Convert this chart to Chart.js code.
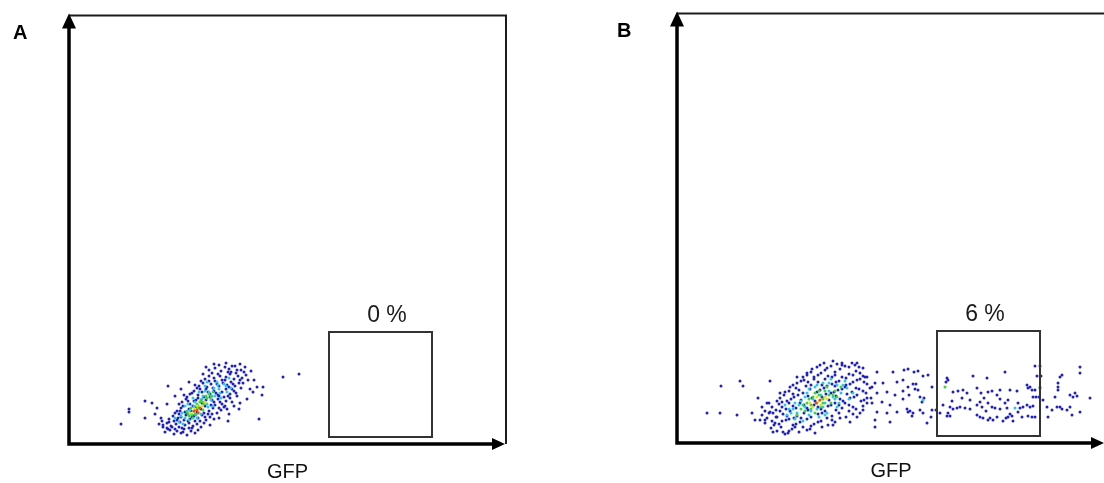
<!DOCTYPE html>
<html><head><meta charset="utf-8">
<script src="https://cdn.jsdelivr.net/npm/chart.js@4"></script>
<style>
html,body{margin:0;padding:0;overflow:hidden;background:#fff;width:1104px;height:483px;position:relative}
canvas{position:absolute;top:0}
</style></head>
<body>
<canvas id="cA" width="552" height="483" style="left:0"></canvas>
<canvas id="cB" width="560" height="483" style="left:552px"></canvas>
<script>
// ---------- DATA (GFP, side scatter; units) ----------
const panelLetters = ['A', 'B'];
const gateLabels = ['0 %', '6 %'];
const gateGFP = [260, 363];
const gateSSC = [7, 112];
const axisTitle = 'GFP';

const A_blue = [[96,12],[101,14],[105,10],[108,13],[112,11],[115,15],[118,9],[122,13],[110,17],[103,17],[99,15],[126,11],[120,16],
[94,19],[98,21],[102,18],[107,20],[111,22],[116,19],[120,21],[124,18],[128,20],[132,17],[105,23],[113,16],[126,23],[135,21],[90,20],
[100,25],[104,28],[108,24],[112,27],[117,29],[121,25],[125,28],[129,26],[133,29],[137,24],[141,27],[145,25],[110,30],[119,23],[131,23],[139,30],
[108,33],[112,36],[116,32],[120,35],[124,38],[128,32],[132,35],[136,38],[140,33],[144,36],[148,31],[152,34],[155,37],[114,38],[146,39],[118,31],
[113,42],[117,45],[121,40],[125,43],[129,46],[133,41],[137,44],[141,47],[145,42],[149,45],[153,40],[157,43],[161,46],[118,47],[150,48],[156,38],
[121,50],[125,53],[129,49],[133,52],[137,55],[141,50],[145,53],[149,49],[153,52],[157,55],[161,50],[165,53],[168,48],[128,56],[160,57],
[130,58],[134,61],[138,57],[142,60],[146,63],[150,58],[154,61],[158,59],[162,62],[166,58],[170,61],[144,56],[172,56],
[136,65],[140,68],[145,66],[149,70],[153,64],[157,67],[161,70],[165,65],[169,68],[173,66],[177,69],[162,72],
[140,74],[146,76],[152,73],[156,77],[160,75],[166,78],[172,74],[176,77],[182,73],[150,79],[168,74],
[98,16],[106,15],[114,12],[123,16],[129,14],[93,23],[100,22],[109,26],[115,24],[123,27],[136,27],[143,30],[106,31],[111,33],[122,33],[127,37],
[135,31],[142,39],[150,36],[158,35],[110,40],[119,43],[127,44],[135,47],[143,44],[151,42],[159,48],[163,42],[115,49],[123,51],[131,55],[139,52],
[147,51],[155,47],[163,55],[167,51],[126,59],[132,63],[140,63],[148,60],[156,64],[164,60],[171,64],[134,70],[143,71],[151,68],[159,72],[167,71],
[175,72],[179,64],[145,80],[157,81],[163,78],[171,80],[137,77],
[230,70],[214,67],[99,58],[60,35],[60,32],[52,20],[76,43],[83,41],[76,26],[94,17],[188,57],[194,57],[184,52],[193,49],[171,41],[190,25],
[159,23],[141,19],[174,61],[86,30],[92,26],[88,36],[170,35],[178,45],[181,55],[185,64],[120,62],[112,55],[106,48],[98,40],[150,26],[160,30],[165,38]];
const A_cyan = [[112,28],[118,33],[122,30],[126,42],[134,48],[140,52],[146,48],[150,55],[155,60],[120,24],[116,38],[138,40],[142,44],[130,52],
[136,58],[148,62],[158,52],[124,46],[132,30],[144,38],[110,22],[152,46],[162,56],[128,26],[138,62],[160,66],[114,20],[106,26],
[116,26],[121,34],[127,29],[133,45],[139,37],[145,56],[151,51],[157,58],[113,31],[119,40],[143,48],[136,53],[149,59],[125,38]];
const A_green = [[120,28],[125,33],[130,36],[135,40],[128,40],[122,36],[132,44],[138,46],[126,30],[134,34],[140,50],[118,32],[144,52],[124,26],
[123,29],[129,38],[134,42],[137,48],[127,35],[131,42],[142,47],[119,30]];
const A_yellow = [[126,35],[130,32],[133,38],[128,38],[122,31],[136,42]];
const A_red = [[128,34],[131,36],[125,33],[129,31]];

const B_blue = [[100,12],[108,9],[115,14],[122,11],[130,13],[94,15],[138,10],[118,16],[104,16],
[88,20],[95,22],[102,19],[109,23],[116,18],[123,21],[130,24],[137,19],[144,22],[151,18],[158,21],[112,24],[97,18],[134,17],
[85,28],[92,30],[99,26],[106,29],[113,32],[120,27],[127,30],[134,26],[141,29],[148,32],[155,27],[162,30],[169,26],[103,32],[117,25],[150,25],[176,29],
[95,36],[102,39],[109,34],[116,37],[123,40],[130,35],[137,38],[144,34],[151,37],[158,40],[165,35],[172,38],[179,34],[112,40],[168,40],[186,37],[99,33],
[103,45],[110,42],[117,46],[124,43],[131,47],[138,42],[145,46],[152,43],[159,47],[166,42],[173,45],[180,48],[187,43],[107,48],[170,49],[194,45],
[112,52],[119,55],[126,50],[133,54],[140,51],[147,55],[154,50],[161,53],[168,56],[175,51],[182,54],[189,50],[116,49],[158,57],[193,55],
[120,60],[127,63],[134,58],[141,61],[148,64],[155,59],[162,62],[169,58],[176,61],[183,64],[190,59],[137,64],[150,57],
[130,68],[137,66],[144,70],[151,67],[158,71],[165,66],[172,69],[179,72],[186,67],[148,73],[163,74],
[140,76],[147,80],[154,77],[160,79],[168,77],[175,80],[182,76],[156,82],[135,74],
[96,11],[112,12],[126,16],[133,14],[145,16],[90,25],[105,22],[119,19],[141,21],[155,23],[163,25],[88,32],[96,30],[110,27],[124,25],[131,33],
[145,30],[159,33],[172,32],[183,30],[92,40],[105,36],[119,35],[127,38],[141,36],[154,38],[162,38],[176,36],[190,40],[100,42],[114,44],[121,48],
[135,45],[149,49],[163,44],[177,46],[184,42],[108,51],[122,53],[129,57],[143,53],[157,51],[165,54],[179,55],[186,52],[116,58],[124,62],[131,61],
[145,58],[159,61],[173,59],[180,63],[187,61],[126,66],[134,71],[141,68],[155,66],[169,65],[176,68],[183,70],[190,66],[143,78],[150,75],[165,80],
[172,76],[178,78],[158,68],
[81,45],[85,36],[90,40],[93,31],[100,26],[105,41],[103,50],[113,56],[120,66],[130,70],[98,20],[83,23],[106,11],[156,18],[173,21],[180,26],
[186,33],[190,45],[195,56],[188,66],[186,75],[180,80],[165,78],
[30,30],[43,30],[44,57],[63,62],[66,57],[93,62],[60,28],[75,30],[78,23],[111,10],[88,23],
[200,71],[216,71],[198,60],[206,60],[220,61],[200,50],[210,51],[218,48],[195,40],[205,41],[213,38],[200,31],[210,30],[220,31],[198,23],[213,21],[198,16],
[227,73],[231,74],[237,71],[241,72],[246,67],[251,68],[226,63],[231,56],[236,59],[239,59],[241,53],[238,54],[226,52],[232,48],[243,46],[247,45],
[226,44],[230,34],[233,32],[236,30],[231,31],[235,27],[243,33],[246,30],[250,20],[255,33],[254,26],[255,56],[245,41],
[270,65],[269,61],[271,63],[275,42],[276,51],[281,52],[286,53],[285,45],[273,36],[276,34],[283,36],[288,35],[293,34],[270,27],[273,27],[271,30],
[296,67],[310,65],[300,55],[304,50],[307,45],[311,51],[315,52],[320,48],[323,53],[303,41],[300,38],[305,36],[311,40],[315,36],[309,32],[318,35],
[323,34],[328,71],[333,53],[340,52],[341,40],[343,35],[346,36],[350,38],[353,36],[356,37],[330,35],[333,29],[331,26],[329,25],[335,27],[336,22],
[326,22],[320,26],[313,25],[306,25],[303,26],[350,58],[353,56],[351,55],[355,53],[356,46],[300,28],[311,23],[316,23],[293,43],[290,50],[280,35],
[266,38],[263,30],[259,33],[358,77],[360,67],[358,53],[359,46],[355,26],[358,26],[351,27],[341,31],[345,26],[323,44],[328,40],[331,43],
[363,77],[364,67],[363,55],[362,46],[366,43],[370,36],[375,33],[380,36],[383,36],[385,34],[378,46],[381,53],[383,66],[385,68],[381,60],[381,56],
[393,48],[396,46],[400,47],[395,28],[403,76],[403,70],[403,31],[413,45],[371,26],[390,33],[393,36],[398,50]];
const B_cyan = [[120,30],[128,36],[136,44],[144,48],[152,52],[160,58],[132,28],[140,34],[148,40],[156,46],[164,50],[124,42],[116,34],[170,55],
[110,28],[138,56],[146,60],[154,64],[168,62],[118,24],[126,22],[176,50],[108,38],[172,44],[150,30],[162,40],[130,50],[142,26],[246,43],[338,35],
[114,30],[122,38],[134,32],[146,36],[158,44],[166,58],[128,46],[140,58],[152,60],[118,40],[132,54],[160,36],[148,28],[112,34]];
const B_green = [[128,32],[134,38],[140,40],[146,44],[152,48],[158,52],[136,46],[144,36],[130,40],[150,56],[124,34],[160,46],[138,30],[154,40],
[142,52],[164,56],[120,28],[268,56],[363,56],[126,38],[132,44],[138,50],[148,52],[156,48],[146,40],[134,34],[142,48]];
const B_yellow = [[136,36],[142,42],[148,46],[133,40],[144,38],[140,46],[150,44]];
const B_red = [[139,40],[143,43]];

// ---------- STYLE ----------
const colors = {red:'#e8501a', yellow:'#e2e21c', green:'#3fd23a', cyan:'#2cc6e6', blue:'#2020bc'};

function sets(red, yellow, green, cyan, blue) {
  const mk = (label, data, c) => ({label, data, backgroundColor: c, pointRadius: 1.5, pointBorderWidth: 0, borderWidth: 0, pointHoverRadius: 0});
  return [mk('red', red, colors.red), mk('yellow', yellow, colors.yellow), mk('green', green, colors.green),
          mk('cyan', cyan, colors.cyan), mk('blue', blue, colors.blue)];
}

const framePlugin = {
  id: 'frame',
  afterDraw(chart, args, o) {
    const {ctx, chartArea: a, scales: {x, y}} = chart;
    ctx.save();
    ctx.strokeStyle = '#1c1c1c'; ctx.lineWidth = 2;
    ctx.beginPath(); ctx.moveTo(a.left, a.top); ctx.lineTo(a.right, a.top); ctx.lineTo(a.right, a.bottom); ctx.stroke();
    const gx0 = x.getPixelForValue(gateGFP[0]), gx1 = x.getPixelForValue(gateGFP[1]);
    const gy0 = y.getPixelForValue(gateSSC[0]), gy1 = y.getPixelForValue(gateSSC[1]);
    ctx.strokeStyle = '#333'; ctx.lineWidth = 2;
    ctx.strokeRect(gx0, gy1, gx1 - gx0, gy0 - gy1);
    ctx.fillStyle = '#1a1a1a';
    ctx.font = '23px "Liberation Sans", Arial, sans-serif';
    ctx.textAlign = 'center'; ctx.textBaseline = 'alphabetic';
    ctx.fillText(o.gateLabel, x.getPixelForValue(o.labelGFP), gy1 - 10);
    ctx.strokeStyle = '#000'; ctx.lineWidth = 3.5;
    ctx.beginPath();
    ctx.moveTo(a.left, a.bottom + 1.75); ctx.lineTo(a.left, a.top + 12);
    ctx.moveTo(a.left - 1.75, a.bottom); ctx.lineTo(a.right - 12, a.bottom);
    ctx.stroke();
    ctx.fillStyle = '#000';
    ctx.beginPath(); ctx.moveTo(a.left, a.top - 2); ctx.lineTo(a.left - 7, a.top + 13); ctx.lineTo(a.left + 7, a.top + 13); ctx.closePath(); ctx.fill();
    ctx.beginPath(); ctx.moveTo(a.right - 1, a.bottom); ctx.lineTo(a.right - 14, a.bottom - 6); ctx.lineTo(a.right - 14, a.bottom + 6); ctx.closePath(); ctx.fill();
    ctx.font = 'bold 20px "Liberation Sans", Arial, sans-serif';
    ctx.textAlign = 'left';
    ctx.fillText(o.letter, a.left + o.letterDX, a.top + 23);
    ctx.restore();
  }
};

function makeChart(id, datasets, xMax, yMax, padding, frameOpts) {
  return new Chart(document.getElementById(id), {
    type: 'scatter',
    data: {datasets},
    options: {
      responsive: false, animation: false, devicePixelRatio: 1,
      layout: {padding, autoPadding: false},
      plugins: {legend: {display: false}, tooltip: {enabled: false}, frame: frameOpts},
      events: [],
      scales: {
        x: {type: 'linear', min: 0, max: xMax, display: true,
            grid: {display: false, drawTicks: false, tickLength: 0}, border: {display: false}, ticks: {display: false},
            title: {display: true, text: axisTitle, color: '#111',
                    font: {family: '"Liberation Sans", Arial, sans-serif', size: 20, lineHeight: 1},
                    padding: {top: 18, bottom: 0}}},
        y: {type: 'linear', min: 0, max: yMax, display: false}
      }
    },
    plugins: [framePlugin]
  });
}

makeChart('cA', sets(A_red, A_yellow, A_green, A_cyan, A_blue), 437, 428.5,
  {left: 69, right: 46, top: 15.5, bottom: 1},
  {gateLabel: gateLabels[0], labelGFP: 318, letter: panelLetters[0], letterDX: -56});
makeChart('cB', sets(B_red, B_yellow, B_green, B_cyan, B_blue), 428, 429.5,
  {left: 125, right: 7, top: 13.5, bottom: 2},
  {gateLabel: gateLabels[1], labelGFP: 308, letter: panelLetters[1], letterDX: -60});
</script>
</body></html>
